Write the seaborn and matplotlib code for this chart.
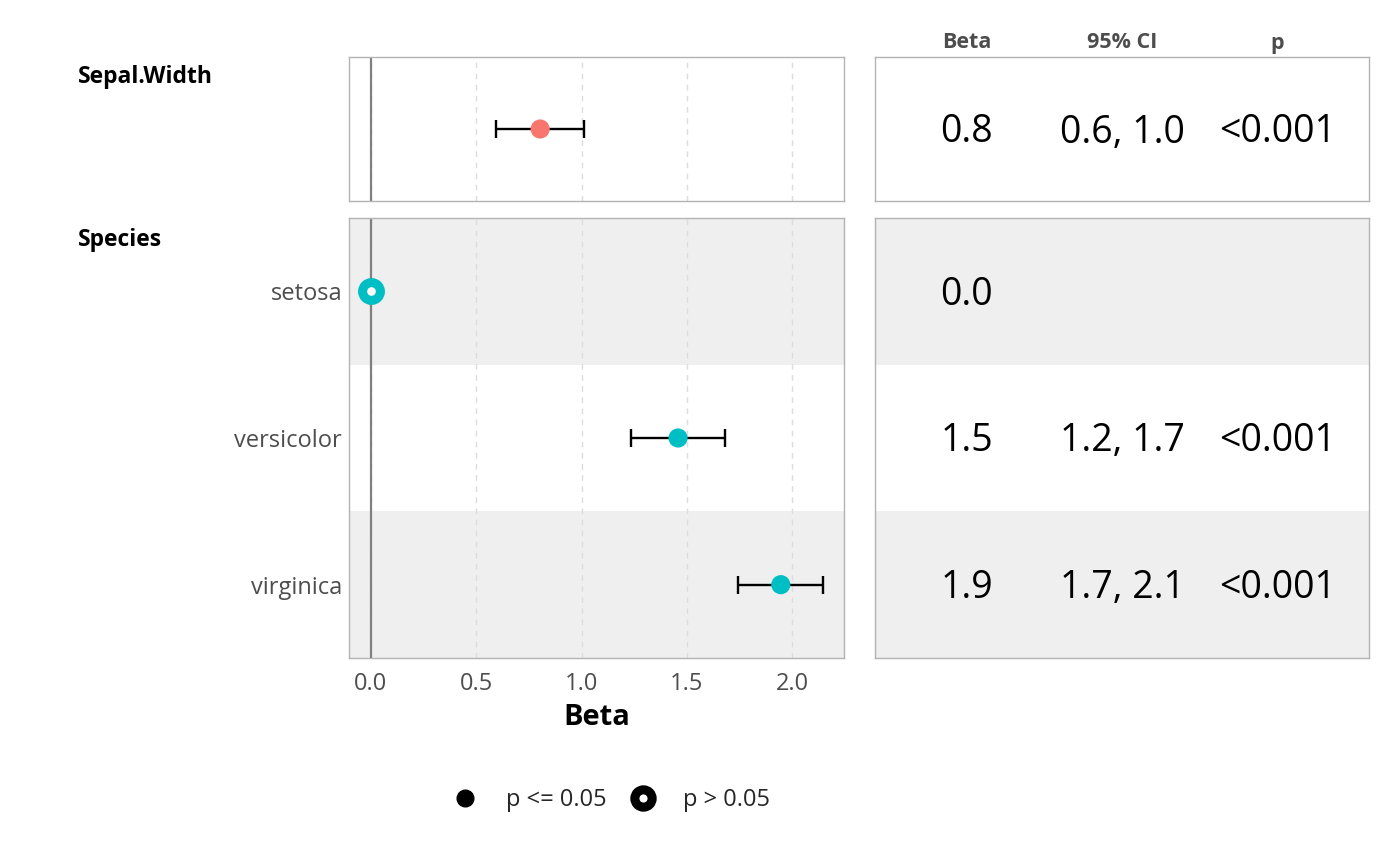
import numpy as np
import pandas as pd
import matplotlib
matplotlib.use("Agg")
import matplotlib.pyplot as plt
from matplotlib.lines import Line2D
from matplotlib.transforms import blended_transform_factory
import seaborn as sns

# ---------------- data ----------------
group_labels = ["Sepal.Width", "Species"]
species_levels = ["setosa", "versicolor", "virginica"]

sw_beta = [0.8036]
sw_low = [0.5946]
sw_high = [1.0126]

sp_beta = [0.0, 1.4587, 1.9468]
sp_low = [np.nan, 1.2371, 1.7454]
sp_high = [np.nan, 1.6803, 2.1482]
sp_significant = [False, True, True]

table_headers = ["Beta", "95% CI", "p"]
sw_table = [["0.8", "0.6, 1.0", "<0.001"]]
sp_table = [["0.0", "", ""],
            ["1.5", "1.2, 1.7", "<0.001"],
            ["1.9", "1.7, 2.1", "<0.001"]]

x_ticks = [0.0, 0.5, 1.0, 1.5, 2.0]
legend_labels = ["p <= 0.05", "p > 0.05"]

# ---------------- style ----------------
sns.set_theme(style="white")
plt.rcParams["font.family"] = ["Open Sans", "DejaVu Sans"]

RED = "#F8766D"
TEAL = "#00BFC4"
BAND = "#EFEFEF"
BORDER = "#B3B3B3"
GRID = "#DCDCDC"
TXT_GRAY = "#4D4D4D"

W, H = 1400, 866
fig = plt.figure(figsize=(14, 8.66), dpi=100)

def px_axes(x0, y0, x1, y1):
    return fig.add_axes([x0 / W, 1 - y1 / H, (x1 - x0) / W, (y1 - y0) / H])

ax_top = px_axes(349, 57, 844, 201)
ax_bot = px_axes(349, 218, 844, 658)
tb_top = px_axes(875, 57, 1369, 201)
tb_bot = px_axes(875, 218, 1369, 658)

xlim = (-0.1045, 2.247)

def style_forest(ax, nrows, shade_rows):
    ax.set_xlim(*xlim)
    ax.set_ylim(nrows - 0.5, -0.5)
    for r in shade_rows:
        ax.axhspan(r - 0.5, r + 0.5, color=BAND, zorder=0, lw=0)
    ax.set_axisbelow(True)
    ax.set_xticks(x_ticks)
    ax.grid(axis="x", color=GRID, lw=1.0, ls=(0, (4, 4)))
    ax.grid(axis="y", visible=False)
    ax.axvline(0, color="#808080", lw=1.6, zorder=1.5)
    for s in ax.spines.values():
        s.set_color(BORDER)
        s.set_linewidth(1.0)
    ax.tick_params(axis="y", length=0, pad=5, labelsize=17, labelcolor=TXT_GRAY)
    ax.tick_params(axis="x", length=5, width=0.8, color="#CCCCCC", pad=5,
                   labelsize=17, labelcolor=TXT_GRAY)

# ---- top forest panel: Sepal.Width ----
style_forest(ax_top, 1, [])
df_sw = pd.DataFrame({"beta": sw_beta, "low": sw_low, "high": sw_high, "row": [0]})
ax_top.errorbar(df_sw["beta"], df_sw["row"],
                xerr=[df_sw["beta"] - df_sw["low"], df_sw["high"] - df_sw["beta"]],
                fmt="none", ecolor="black", elinewidth=1.7, capsize=6.5, capthick=1.7, zorder=2)
sns.scatterplot(data=df_sw, x="beta", y="row", color=RED, s=190, edgecolor="none",
                ax=ax_top, zorder=3, legend=False)
ax_top.set_ylim(0.5, -0.5)
ax_top.set_yticks([])
ax_top.set_xticklabels([])
ax_top.tick_params(axis="x", length=0)
ax_top.set_xlabel("")
ax_top.set_ylabel("")

# ---- bottom forest panel: Species ----
style_forest(ax_bot, 3, [0, 2])
df_sp = pd.DataFrame({"level": species_levels, "beta": sp_beta, "low": sp_low,
                      "high": sp_high, "sig": sp_significant,
                      "row": np.arange(len(species_levels))})
sig = df_sp[df_sp["sig"]]
nsig = df_sp[~df_sp["sig"]]
ax_bot.errorbar(sig["beta"], sig["row"],
                xerr=[sig["beta"] - sig["low"], sig["high"] - sig["beta"]],
                fmt="none", ecolor="black", elinewidth=1.7, capsize=6.5, capthick=1.7, zorder=2)
sns.scatterplot(data=sig, x="beta", y="row", color=TEAL, s=190, edgecolor="none",
                ax=ax_bot, zorder=3, legend=False)
sns.scatterplot(data=nsig, x="beta", y="row", s=165, facecolor="white",
                edgecolor=TEAL, linewidth=6.5, ax=ax_bot, zorder=3, legend=False)
ax_bot.set_ylim(2.5, -0.5)
ax_bot.set_yticks(df_sp["row"])
ax_bot.set_yticklabels(df_sp["level"])
ax_bot.set_xticks(x_ticks)
ax_bot.set_xticklabels([f"{t:.1f}" for t in x_ticks])
ax_bot.set_ylabel("")
ax_bot.set_xlabel("Beta", fontsize=21, fontweight="bold", color="black", labelpad=5)

# ---- group labels ----
fig.text(78 / W, 1 - 77 / H, group_labels[0], fontsize=16.5, fontweight="bold",
         ha="left", va="center", color="black")
fig.text(78 / W, 1 - 240 / H, group_labels[1], fontsize=16.5, fontweight="bold",
         ha="left", va="center", color="black")

# ---- table panels ----
col_x = [0.186, 0.5, 0.814]

def style_table(ax, rows, shade_rows, px_per_row):
    n = len(rows)
    ax.set_xlim(0, 1)
    ax.set_ylim(n - 0.5, -0.5)
    for r in shade_rows:
        ax.axhspan(r - 0.5, r + 0.5, color=BAND, zorder=0, lw=0)
    ax.set_xticks([])
    ax.set_yticks([])
    ax.grid(False)
    for s in ax.spines.values():
        s.set_color(BORDER)
        s.set_linewidth(1.0)
    off = 13.5 / px_per_row
    for i, row in enumerate(rows):
        for cx, val in zip(col_x, row):
            if val:
                ax.text(cx, i + off, val, fontsize=27, ha="center", va="baseline",
                        color="black")

style_table(tb_top, sw_table, [], 144)
style_table(tb_bot, sp_table, [0, 2], 440 / 3)

trans = blended_transform_factory(tb_top.transAxes, tb_top.transAxes)
for cx, h in zip(col_x, table_headers):
    tb_top.text(cx, 1 + 14 / 144, h, transform=trans, fontsize=15.5, fontweight="bold",
                color=TXT_GRAY, ha="center", va="center")

# ---- legend ----
handles = [
    Line2D([], [], marker="o", ls="none", color="black", markersize=13,
           markeredgewidth=0),
    Line2D([], [], marker="o", ls="none", markerfacecolor="white",
           markeredgecolor="black", markersize=12.5, markeredgewidth=6.5),
]
fig.legend(handles, legend_labels, loc="center", bbox_to_anchor=(608.5 / W, 1 - 800 / H),
           ncol=2, frameon=False, fontsize=17, handletextpad=0.9, columnspacing=0.77,
           handlelength=1.6)

fig.savefig("out.png", dpi=100, facecolor="white")
